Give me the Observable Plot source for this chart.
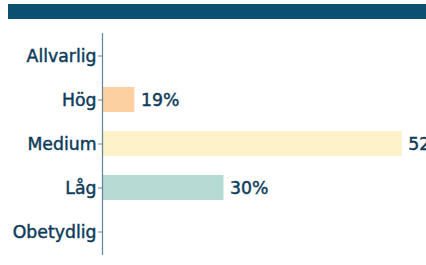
<!DOCTYPE html>
<html><head><meta charset="utf-8">
<script src="https://cdn.jsdelivr.net/npm/d3@7"></script>
<script src="https://cdn.jsdelivr.net/npm/@observablehq/plot@0.6"></script>
<style>
body{margin:0;background:#fff;font-family:"DejaVu Sans",sans-serif;overflow:hidden;}
#hdr{margin:4px 0 0 8px;height:15px;background:#0b4f71;}
#chart{margin-top:3px;}
#chart svg{display:block;}
#chart svg text{stroke:#0d3b5a;stroke-width:0.45px;}
</style></head>
<body>
<div id="hdr"></div>
<div id="chart"></div>
<script>
const categories = ["Allvarlig","Hög","Medium","Låg","Obetydlig"];
const values = [null, 19, 52, 30, null];
const colors = ["#fdd0a2","#fdd0a2","#fcf1c8","#b5dbd3","#b5dbd3"];
const xDomain = [15, 55];
const data = categories.map((c,i)=>({cat:c, v:values[i], col:colors[i]})).filter(d=>d.v!=null);
const navy = "#0d3b5a";
const plot = Plot.plot({
  width: 426, height: 243,
  marginLeft: 102, marginRight: 0, marginTop: 11, marginBottom: 10,
  style: {fontFamily: "DejaVu Sans, sans-serif", fontSize: "17.3px", color: navy, overflow: "visible"},
  x: {domain: xDomain, clamp: true, axis: null},
  y: {domain: categories, paddingInner: 0.43, paddingOuter: 0.215, label: null},
  marks: [
    Plot.barX(data, {x: "v", y: "cat", fill: "col"}),
    Plot.text(data, {x: "v", y: "cat", text: d=>d.v+"%", textAnchor: "start", dx: 6, fill: navy, fontSize: 17.3}),
    Plot.ruleX([xDomain[0]], {stroke: "#5f8599", strokeWidth: 1.2}),
    Plot.axisY({tickSize: 4, tickPadding: 2, fontSize: 17.3, fill: navy, stroke: "#5f8599", label: null})
  ]
});
document.getElementById("chart").appendChild(plot);
</script>
</body></html>
